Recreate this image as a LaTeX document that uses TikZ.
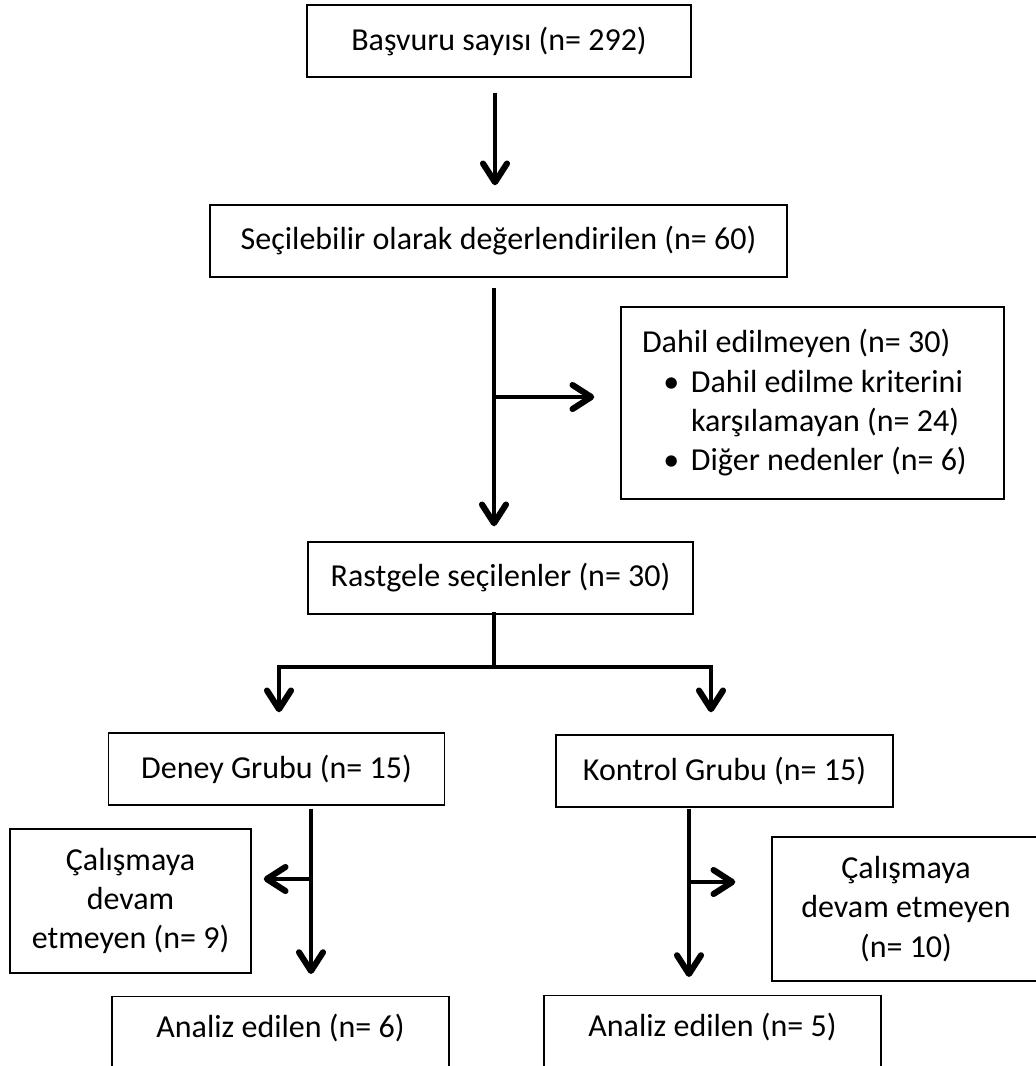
\documentclass[tikz,border=0pt]{standalone}
\usepackage{fontspec}
\setmainfont{Carlito}
\usepackage{tikz}
\usetikzlibrary{arrows.meta, positioning, calc}

\tikzset{
  box/.style={draw, line width=1.1pt, minimum height=54pt, inner sep=0pt, align=center},
  flow/.style={line width=3.2pt, -{Straight Barb[length=14pt,width=18pt,line width=4.6pt,round]}},
  trunk/.style={line width=3.7pt, line cap=rect},
}

\begin{document}
\begin{tikzpicture}[x=0.75pt, y=-0.75pt, font=\fontsize{24}{29.5}\selectfont]
  \useasboundingbox (0,0) rectangle (1035,1066);

  \node[box, minimum width=288pt] (apply) at (499,41) {Başvuru sayısı (n= 292)};
  \node[box, minimum width=432.75pt] (eligible) at (498.5,241) {Seçilebilir olarak değerlendirilen (n= 60)};
  \node[box, minimum width=287.25pt, minimum height=144pt, text width=255.75pt, inner xsep=15.75pt, align=flush left] (excluded) at (812.5,403)
    {Dahil edilmeyen (n= 30)\\
     \hspace*{16pt}\makebox[20.75pt][l]{\textbullet}Dahil edilme kriterini\\
     \hspace*{36.75pt}karşılamayan (n= 24)\\
     \hspace*{16pt}\makebox[20.75pt][l]{\textbullet}Diğer nedenler (n= 6)};
  \node[box, minimum width=288.75pt] (random) at (500.5,578) {Rastgele seçilenler (n= 30)};
  \node[box, minimum width=252pt] (expgroup) at (276.5,769) {Deney Grubu (n= 15)};
  \node[box, minimum width=252.75pt] (ctlgroup) at (724.5,771) {Kontrol Grubu (n= 15)};
  \node[box, minimum width=180.75pt, minimum height=108pt] (dropExp) at (130.5,901) {Çalışmaya\\devam\\etmeyen (n= 9)};
  \node[box, minimum width=201pt, minimum height=108pt] (dropCtl) at (906,909) {Çalışmaya\\devam etmeyen\\(n= 10)};
  \node[box, minimum width=252.75pt, anchor=north, text height=30.75pt, text depth=80pt] (analysedExp) at (280.5,996) {Analiz edilen (n= 6)};
  \node[box, minimum width=252.75pt, anchor=north, text height=30.75pt, text depth=80pt] (analysedCtl) at (712.5,995) {Analiz edilen (n= 5)};

  \coordinate (exclSplit) at (494,397);
  \coordinate (split) at (494,667);
  \coordinate (forkL) at (279,667);
  \coordinate (forkR) at (711,667);
  \coordinate (expSplit) at (311,879);
  \coordinate (ctlSplit) at (689,882);

  \draw[flow, shorten <=11.25pt, shorten >=14.25pt] ([xshift=-3pt]apply.south) -- ([xshift=-3pt]apply.south |- eligible.north);
  \draw[flow, shorten <=7.5pt, shorten >=11.25pt] (exclSplit |- eligible.south) -- (exclSplit |- random.north);
  \draw[flow, shorten >=19.5pt] (exclSplit) -- (exclSplit -| excluded.west);

  \draw[trunk] (split |- random.south) -- (split);
  \draw[trunk] (forkL) -- (forkR);
  \draw[flow, shorten >=15pt] (forkL) -- (forkL |- expgroup.north);
  \draw[flow, shorten >=16.5pt] (forkR) -- (forkR |- ctlgroup.north);

  \draw[flow, shorten <=2.25pt, shorten >=16.5pt] (expSplit |- expgroup.south) -- (expSplit |- analysedExp.north);
  \draw[flow, shorten >=9pt] (expSplit) -- (expSplit -| dropExp.east);
  \draw[flow, shorten <=0.75pt, shorten >=13.5pt] (ctlSplit |- ctlgroup.south) -- (ctlSplit |- analysedCtl.north);
  \draw[flow, shorten >=27pt] (ctlSplit) -- (ctlSplit -| dropCtl.west);
\end{tikzpicture}
\end{document}
